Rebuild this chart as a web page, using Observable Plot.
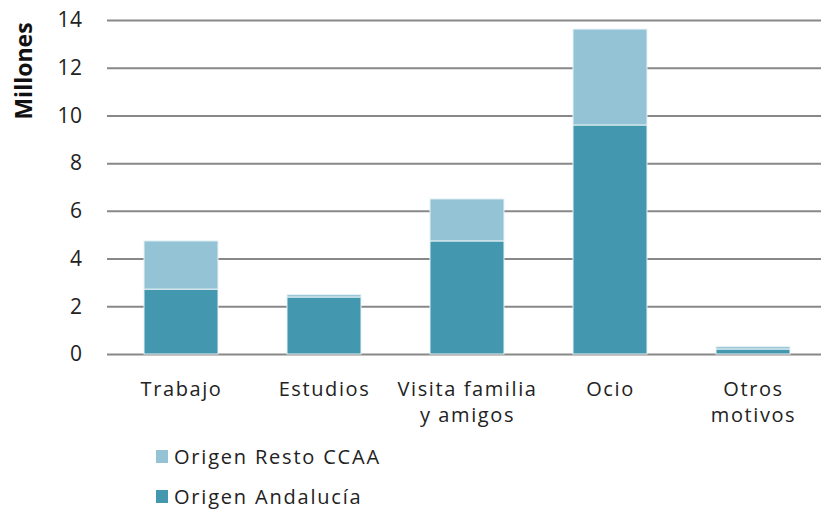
<!DOCTYPE html>
<html>
<head>
<meta charset="utf-8">
<script src="https://cdn.jsdelivr.net/npm/d3@7"></script>
<script src="https://cdn.jsdelivr.net/npm/@observablehq/plot@0.6"></script>
<style>
  body { margin: 0; background: #fff; font-family: "Open Sans", sans-serif; }
  #wrap { position: relative; width: 821px; height: 511px; overflow: hidden; }
  #chart svg { display: block; }
  g[aria-label="x-axis tick label"] text { letter-spacing: 1.6px; }
  g[aria-label="y-axis tick label"] text { letter-spacing: 0.5px; }
  .legend-item { position: absolute; left: 156px; display: flex; align-items: center;
    font-size: 20px; letter-spacing: 1.8px; color: #222; white-space: nowrap; }
  .legend-item .sw { width: 12px; height: 13px; margin-right: 6px; }
</style>
</head>
<body>
<div id="wrap">
  <div id="chart"></div>
  <div id="legend"></div>
</div>
<script>
const categories = ["Trabajo", "Estudios", "Visita familia\ny amigos", "Ocio", "Otros\nmotivos"];
const seriesNames = ["Origen Andalucía", "Origen Resto CCAA"];
const andalucia = [2.72, 2.39, 4.74, 9.60, 0.21];
const resto = [2.02, 0.10, 1.76, 4.02, 0.10];
const seriesColors = ["#4398B0", "#93C3D5"];
const yTicks = [0, 2, 4, 6, 8, 10, 12, 14];
const yTitle = "Millones";

const rows = categories.flatMap((c, i) => [
  {cat: c, series: seriesNames[0], value: andalucia[i]},
  {cat: c, series: seriesNames[1], value: resto[i]}
]);

const plot = Plot.plot({
  width: 821,
  height: 430,
  marginTop: 20,
  marginBottom: 76,
  marginLeft: 107,
  marginRight: 0,
  style: {fontFamily: "Open Sans", fontSize: "20px", color: "#222", background: "white", overflow: "visible"},
  x: {domain: categories, range: [107, 826], paddingInner: 0.485, paddingOuter: 0.2425},
  y: {domain: [0, 14]},
  color: {domain: seriesNames, range: seriesColors},
  marks: [
    Plot.ruleY(yTicks, {stroke: "#888", strokeWidth: 2}),
    Plot.barY(rows, {x: "cat", y: "value", fill: "series", order: seriesNames,
      stroke: "#e8f2f5", strokeWidth: 1}),
    Plot.axisY({ticks: yTicks, tickSize: 0, tickPadding: 25, label: null, fontSize: 21,
      tickFormat: d => String(d)}),
    Plot.axisX({tickSize: 0, tickPadding: 23, label: null, fontSize: 20, lineHeight: 1.3})
  ]
});
document.getElementById("chart").appendChild(plot);

d3.select(plot).append("text")
  .attr("transform", "translate(32,71) rotate(-90)")
  .attr("text-anchor", "middle")
  .attr("font-family", "Open Sans")
  .attr("font-weight", "bold")
  .attr("font-size", 23)
  .attr("fill", "#111")
  .text(yTitle);

const legendTops = [443, 483];
const legendOrder = [1, 0];
const legend = d3.select("#legend");
legendOrder.forEach((si, k) => {
  const item = legend.append("div").attr("class", "legend-item").style("top", legendTops[k] + "px");
  item.append("div").attr("class", "sw").style("background", seriesColors[si]);
  item.append("span").text(seriesNames[si]);
});
</script>
</body>
</html>
